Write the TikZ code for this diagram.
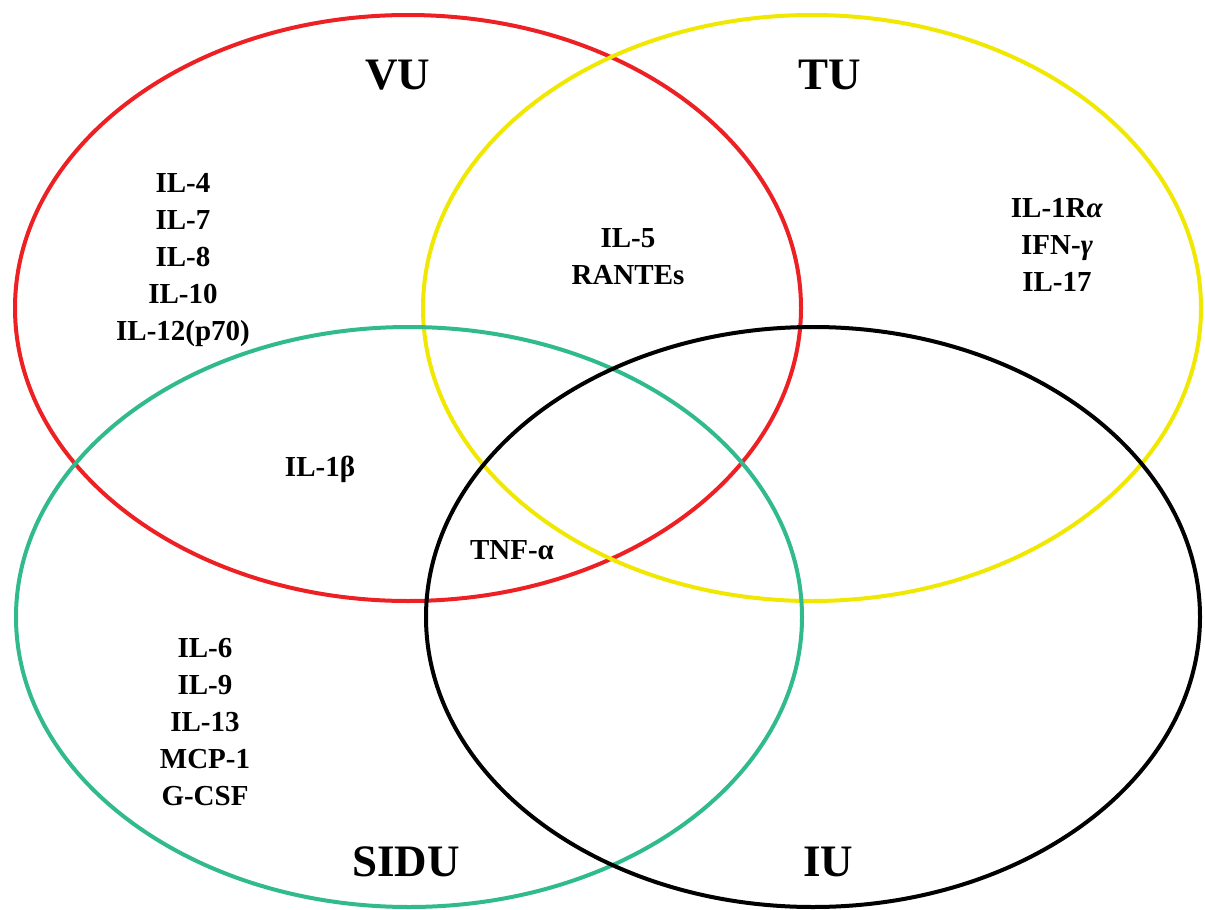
\documentclass[tikz,border=0pt]{standalone}
\usepackage{fontspec}
\setmainfont{Liberation Serif}
\definecolor{vured}{RGB}{237,32,36}
\definecolor{tuyel}{RGB}{240,232,0}
\definecolor{siteal}{RGB}{48,186,142}
\definecolor{iublk}{RGB}{0,0,0}
\begin{document}
\begin{tikzpicture}[x=1pt,y=-1pt,
  ring/.style={line width=4pt},
  setlabel/.style={font=\fontsize{45}{50}\selectfont\bfseries, inner sep=0pt},
  cyto/.style={font=\fontsize{29}{37}\selectfont\bfseries, align=center, inner sep=0pt}]
\useasboundingbox (0,0) rectangle (1205,910);
\draw[ring, vured]  (408,308) ellipse [x radius=393pt, y radius=293pt];
\draw[ring, tuyel]  (812,308) ellipse [x radius=389pt, y radius=293pt];
\draw[ring, siteal] (409,617) ellipse [x radius=393pt, y radius=290pt];
\draw[ring, iublk]  (813,617) ellipse [x radius=387pt, y radius=290pt];

\node[setlabel] (vu) at (398,75) {VU};
\node[setlabel] (tu) at (830,75) {TU};
\node[setlabel] (sidu) at (406,862) {SIDU};
\node[setlabel] (iu) at (828,862) {IU};

\node[cyto] (vuonly) at (183,260) {IL-4\\IL-7\\IL-8\\IL-10\\IL-12(p70)};
\node[cyto] (vutu) at (628,257) {IL-5\\RANTEs};
\node[cyto] (tuonly) at (1057,245) {IL-1R\textit{α}\\IFN-\textit{γ}\\IL-17};
\node[cyto] (vusidu) at (320,469) {IL-1β};
\node[cyto] (all) at (512,550) {TNF-α};
\node[cyto] (siduonly) at (205,722) {IL-6\\IL-9\\IL-13\\MCP-1\\G-CSF};
\end{tikzpicture}
\end{document}
